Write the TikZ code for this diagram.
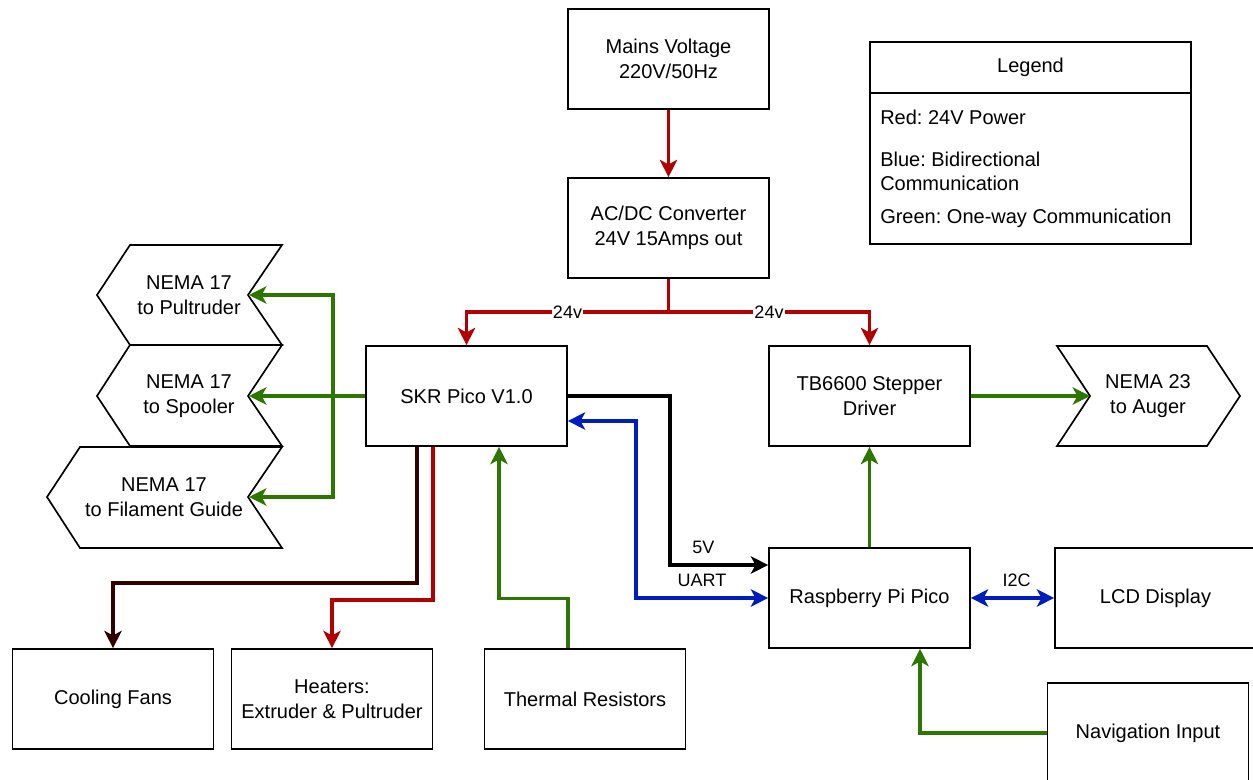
\documentclass[tikz,border=0pt]{standalone}
\usepackage{fontspec}
\setmainfont{Liberation Sans}
\usetikzlibrary{arrows.meta}
\definecolor{rosso}{HTML}{B20000}
\definecolor{verde}{HTML}{2D7600}
\definecolor{blu}{HTML}{001DBC}
\definecolor{marrone}{HTML}{330000}
\frenchspacing
\tikzset{
  blocco/.style={draw, line width=1.25pt, fill=white, minimum width=150.75pt,
    minimum height=75pt, inner sep=2pt, align=center, font=\fontsize{15}{19}\selectfont},
  sagoma/.style={draw, line width=1.25pt, fill=white},
  testo/.style={inner sep=0pt, align=center, font=\fontsize{15}{19}\selectfont},
  voce/.style={inner sep=0pt, anchor=west, align=left, font=\fontsize{15}{18}\selectfont},
  punta/.style={-{Stealth[length=13pt,width=13pt,inset=3.5pt]}},
  doppia/.style={{Stealth[length=13pt,width=13pt,inset=3.5pt]}-{Stealth[length=13pt,width=13pt,inset=3.5pt]}},
  filo/.style={line width=2.5pt},
  etichetta/.style={inner sep=1pt, text=black, font=\fontsize{13.5}{16}\selectfont},
}
\begin{document}
\begin{tikzpicture}[x=0.75pt, y=-0.75pt]
    \path[use as bounding box, clip] (0,0) rectangle (1253,780);

    % Blocchi
    \node[blocco] (mains) at (668.5,59) {Mains Voltage\\220V/50Hz};
    \node[blocco] (acdc) at (668.5,228) {AC/DC Converter\\24V 15Amps out};
    \node[blocco] (skr) at (466.5,396) {SKR Pico V1.0};
    \node[blocco] (tb) at (869.5,396) {TB6600 Stepper\\Driver};
    \node[blocco] (rpi) at (869.5,598) {Raspberry Pi Pico};
    \node[blocco] (lcd) at (1155.5,598) {LCD Display};
    \node[blocco] (nav) at (1148,733) {Navigation Input};
    \node[blocco] (cool) at (113,699) {Cooling Fans};
    \node[blocco] (heat) at (332,699) {Heaters:\\Extruder \& Pultruder};
    \node[blocco] (therm) at (585,699) {Thermal Resistors};

    % Motori (frecce)
    \draw[sagoma] (130,245) -- (282,245) -- (248,295) -- (282,345) -- (130,345) -- (97,295) -- cycle;
    \draw[sagoma] (130,345) -- (282,345) -- (248,396) -- (282,446) -- (130,446) -- (97,396) -- cycle;
    \draw[sagoma] (80,447) -- (282,447) -- (248,497) -- (282,548) -- (80,548) -- (47,497) -- cycle;
    \draw[sagoma] (1057,346) -- (1207,346) -- (1240,396) -- (1207,446) -- (1057,446) -- (1090,396) -- cycle;
    \node[testo] (pult) at (189,295) {NEMA 17\\to Pultruder};
    \node[testo] (spool) at (189,396) {NEMA 17\\to Spooler};
    \node[testo] (guide) at (164,497) {NEMA 17\\to Filament Guide};
    \node[testo] (auger) at (1148,396) {NEMA 23\\to Auger};
    \coordinate (pultIn) at (249,295);
    \coordinate (spoolIn) at (249,396);
    \coordinate (guideIn) at (249,497);
    \coordinate (augerIn) at (1090,396);

    % Legenda
    \node[blocco, minimum width=240.75pt, minimum height=151.5pt] (legend) at (1030.5,143) {};
    \draw[line width=1.25pt] (870,93) -- (1191,93);
    \node[testo] (legTitle) at (1030.5,67) {Legend};
    \node[voce] (legRed) at (880,117) {Red: 24V Power};
    \node[voce] (legBlue) at (880,171) {Blue: Bidirectional\\Communication};
    \node[voce] (legGreen) at (880,218) {Green: One-way Communication};

    % Alimentazione 24V
    \coordinate (split) at (668.5,312);
    \draw[filo, rosso, punta] (mains) -- (acdc);
    \draw[filo, rosso] (acdc.south) -- (split);
    \draw[filo, rosso, punta] (split) -| node[etichetta, fill=white, pos=0.25] {24v} (skr.north);
    \draw[filo, rosso, punta] (split) -| node[etichetta, fill=white, pos=0.25] {24v} (tb.north);

    % 5V e UART
    \draw[filo, black, punta] (skr.east) -- ++(102,0)
        |- node[etichetta, above=6pt, pos=0.67] {5V} ([yshift=24.75pt]rpi.west);
    \draw[filo, blu, doppia] ([yshift=-18.75pt]skr.east) -- ++(68,0)
        |- node[etichetta, above=6pt, pos=0.75] {UART} (rpi.west);
    \draw[filo, blu, doppia] (rpi.east) -- node[etichetta, above=6pt, pos=0.55] {I2C} (lcd.west);

    % Uscite SKR
    \draw[filo, marrone, punta] ([xshift=-37.1pt]skr.south) -- ++(0,136) -| (cool.north);
    \draw[filo, rosso, punta] ([xshift=-25.1pt]skr.south) -- ++(0,153) -| (heat.north);
    \draw[filo, verde, punta] ([xshift=-12.75pt]therm.north) -- ++(0,-50) -| ([xshift=24.4pt]skr.south);

    % Motori NEMA 17
    \coordinate (bus) at (333,396);
    \draw[filo, verde, punta] (skr.west) -- (spoolIn);
    \draw[filo, verde, punta] (bus) |- (pultIn);
    \draw[filo, verde, punta] (bus) |- (guideIn);

    % Driver e Pico
    \draw[filo, verde, punta] (rpi) -- (tb);
    \draw[filo, verde, punta] (tb.east) -- (augerIn);
    \draw[filo, verde, punta] (nav.west) -| ([xshift=37.9pt]rpi.south);

\end{tikzpicture}
\end{document}
